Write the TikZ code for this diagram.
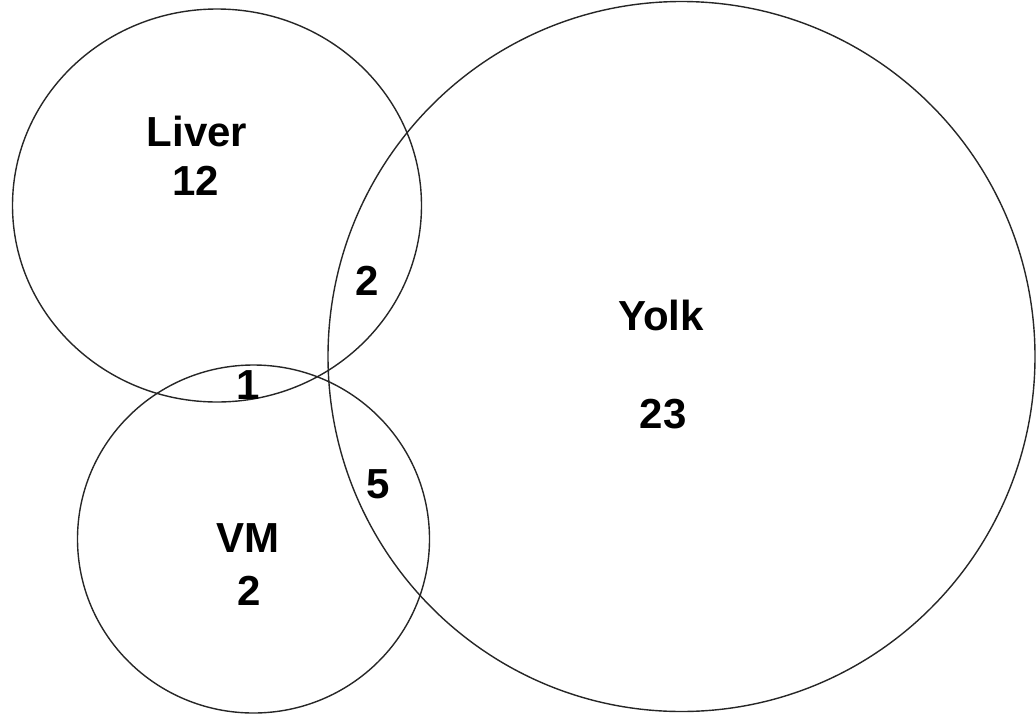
\documentclass[tikz,border=0pt]{standalone}
\usepackage{fontspec}
\setmainfont{Liberation Sans}
\begin{document}
\begin{tikzpicture}[x=1pt,y=-1pt,
  ring/.style={draw=black!85,line width=1.4pt},
  lbl/.style={anchor=base,inner sep=0pt,font=\fontsize{42}{42}\selectfont\bfseries}]
\useasboundingbox (0,0) rectangle (1036,718);
\draw[ring] (217,205.5) ellipse [x radius=204.5,y radius=196.5];
\draw[ring] (253.5,539) ellipse [x radius=176,y radius=174];
\draw[ring] (681.5,356.5) ellipse [x radius=353.5,y radius=355];
\node[lbl] (liver) at (197,146) {Liver};
\node[lbl] (n12) at (196,195) {12};
\node[lbl] (nLY) at (367,295) {2};
\node[lbl] (nLV) at (248,399) {1};
\node[lbl] (nVY) at (378,498) {5};
\node[lbl] (vm) at (248,552) {VM};
\node[lbl] (n2) at (249,605) {2};
\node[lbl] (yolk) at (661,330) {Yolk};
\node[lbl] (n23) at (663,428) {23};
\end{tikzpicture}
\end{document}
